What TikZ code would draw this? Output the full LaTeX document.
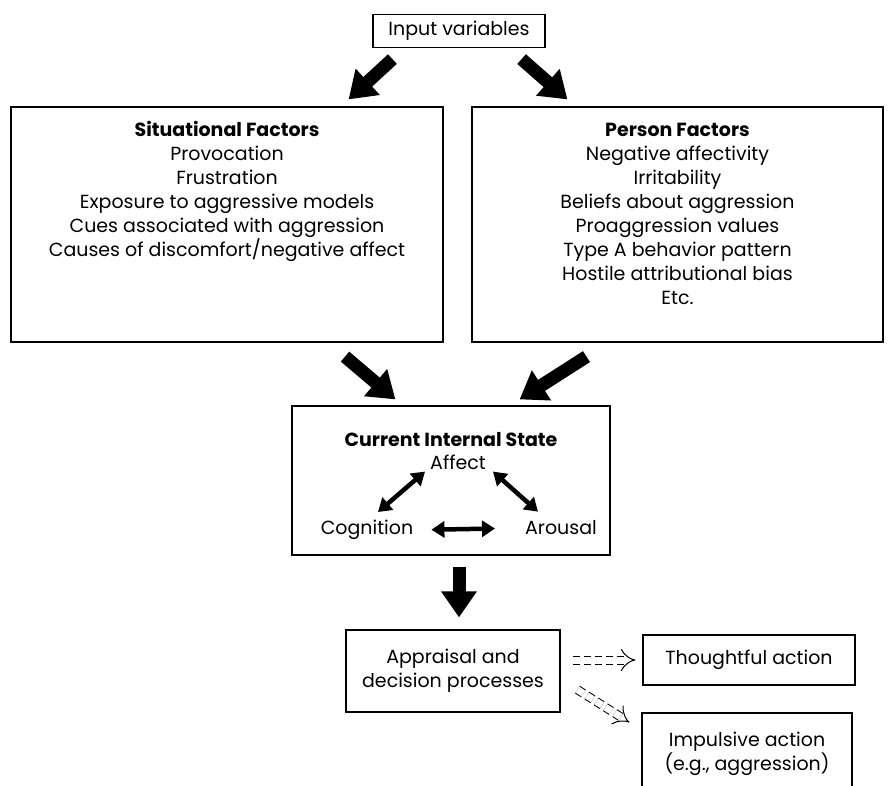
\documentclass[tikz,border=0pt]{standalone}
\usepackage{fontspec}
\setmainfont{Poppins}
\usetikzlibrary{arrows.meta,calc}
\begin{document}
\begin{tikzpicture}[x=1pt,y=-1pt,
  box/.style={draw, line width=1.2pt, inner sep=0pt},
  txt/.style={align=center, inner sep=0pt, font=\fontsize{19}{24}\selectfont},
  bigarrow/.style={line width=13pt, -{Triangle[length=26pt,width=34pt]}},
  linkarrow/.style={line width=4.5pt,
    {Triangle[length=13pt,width=16pt]}-{Triangle[length=13pt,width=16pt]}},
  choice/.style={double, double distance=7pt, line width=1pt,
    dash pattern=on 7pt off 4pt, -{Implies[scale=1.4]}}]
\useasboundingbox (0,0) rectangle (894,785);
\clip (0,0) rectangle (894,785);

% input
\node[box, txt, minimum width=172pt, minimum height=33pt] (input) at (459,31) {Input variables};

% factor boxes
\node[box, minimum width=432pt, minimum height=235pt] (sit) at (227,224.5) {};
\node[txt, anchor=north] (sittext) at (227,121)
  {\textbf{Situational Factors}\\Provocation\\Frustration\\Exposure to aggressive models\\Cues associated with aggression\\Causes of discomfort/negative affect};
\node[box, minimum width=411pt, minimum height=235pt] (per) at (677.5,224.5) {};
\node[txt, anchor=north] (pertext) at (677.5,123)
  {\textbf{Person Factors}\\Negative affectivity\\Irritability\\Beliefs about aggression\\Proaggression values\\Type A behavior pattern\\Hostile attributional bias\\Etc.};

% internal state
\node[box, minimum width=318pt, minimum height=149pt] (state) at (451,480.5) {};
\node[txt] (statetitle) at (451,440) {\textbf{Current Internal State}};
\node[txt] (affect) at (458,462) {Affect};
\node[txt] (cog) at (367,530) {Cognition};
\node[txt] (arou) at (561,528) {Arousal};

% appraisal and outcomes
\node[box, txt, minimum width=214pt, minimum height=82pt] (appr) at (453,671) {Appraisal and\\decision processes};
\node[box, txt, minimum width=212pt, minimum height=50pt] (thought) at (749,660) {Thoughtful action};
\node[box, minimum width=210pt, minimum height=110pt] (impul) at (747,768) {};
\node[txt] (impultext) at (747,754) {Impulsive action\\(e.g., aggression)};

% heavy arrows
\draw[bigarrow] ([xshift=20pt,yshift=-11pt]input.south west) -- ([xshift=-95pt,yshift=7pt]sit.north east);
\draw[bigarrow] ([xshift=-24pt,yshift=-11pt]input.south east) -- ([xshift=96pt,yshift=7pt]per.north west);
\draw[bigarrow] ([xshift=118pt,yshift=-14pt]sit.south) -- ([xshift=104pt,yshift=6pt]state.north west);
\draw[bigarrow] ([xshift=-91pt,yshift=-14pt]per.south) -- ([xshift=-91pt,yshift=6pt]state.north east);
\draw[bigarrow, shorten <=11pt, shorten >=12pt] ([xshift=6pt]appr.north |- state.south) -- ([xshift=6pt]appr.north);

% links inside the internal state
\draw[linkarrow] ([xshift=11pt,yshift=8pt]cog.north) -- ([xshift=-5pt,yshift=-2pt]affect.south west);
\draw[linkarrow] ([xshift=-23pt,yshift=9pt]arou.north) -- ([xshift=7pt,yshift=-2pt]affect.south east);
\draw[linkarrow, shorten <=18pt, shorten >=30pt] (cog.east) -- (arou.west);

% dashed choice arrows
\draw[choice, shorten <=12pt, shorten >=7pt] (appr.east |- thought.west) -- (thought.west);
\draw[choice, shorten <=20pt] ([yshift=-8pt]appr.east) -- ([xshift=-12pt,yshift=-10pt]impul.north west);
\end{tikzpicture}
\end{document}
